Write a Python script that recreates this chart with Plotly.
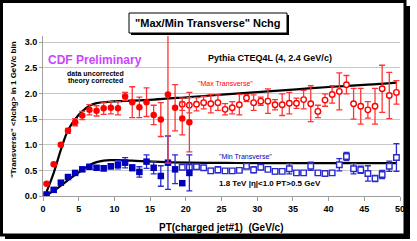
import plotly.graph_objects as go

# ---------------- data ----------------
pt_low = [0.5 + i for i in range(21)]          # 0.5 .. 20.5
pt_high = [19.5 + i for i in range(31)]        # 19.5 .. 49.5

max_low = [0.24, 0.62, 1.00, 1.27, 1.44, 1.57, 1.68, 1.66, 1.71, 1.72, 1.71,
           1.94, 1.83, 1.73, 1.83, 1.58, 1.49, 1.98, 1.72, 1.51, 1.44]
max_low_err = [0.02, 0.02, 0.03, 0.05, 0.07, 0.08, 0.10, 0.10, 0.12, 0.12, 0.13,
               0.08, 0.30, 0.20, 0.28, 0.19, 0.33, 1.34, 0.45, 0.32, 0.58]

min_low = [0.03, 0.12, 0.26, 0.37, 0.45, 0.52, 0.57, 0.55, 0.54, 0.58, 0.61,
           0.65, 0.55, 0.47, 0.67, 0.55, 0.39, 0.65, 0.52, 0.25, 0.45]
min_low_err = [0.01, 0.01, 0.02, 0.02, 0.03, 0.03, 0.04, 0.04, 0.05, 0.05, 0.08,
               0.10, 0.06, 0.10, 0.13, 0.12, 0.20, 0.52, 0.28, 0.04, 0.35]

max_high = [1.79, 1.77, 1.79, 1.82, 1.80, 1.82, 1.69, 1.72, 1.78, 1.91, 1.82,
            1.85, 1.85, 1.78, 1.78, 1.81, 1.81, 1.88, 1.80, 1.65, 1.87, 1.98,
            2.04, 2.17, 1.80, 1.75, 1.68, 1.75, 2.09, 1.96, 2.02]
max_high_err = [0.12, 0.15, 0.13, 0.12, 0.18, 0.15, 0.11, 0.12, 0.20, 0.07, 0.15,
                0.08, 0.24, 0.10, 0.21, 0.21, 0.10, 0.18, 0.35, 0.12, 0.12, 0.17,
                0.36, 0.18, 0.30, 0.35, 0.16, 0.35, 0.46, 0.45, 0.23]

min_high = [0.56, 0.56, 0.57, 0.55, 0.49, 0.51, 0.49, 0.49, 0.50, 0.58, 0.51,
            0.56, 0.52, 0.48, 0.48, 0.53, 0.45, 0.45, 0.58, 0.45, 0.44, 0.45,
            0.61, 0.77, 0.53, 0.51, 0.44, 0.34, 0.42, 0.58, 0.75]
min_high_err = [0.03, 0.03, 0.03, 0.03, 0.05, 0.06, 0.03, 0.03, 0.03, 0.03, 0.06,
                0.03, 0.03, 0.05, 0.03, 0.10, 0.03, 0.03, 0.08, 0.04, 0.04, 0.04,
                0.12, 0.08, 0.10, 0.07, 0.15, 0.06, 0.08, 0.10, 0.27]

th_pt = [0.5, 1.5, 2.5, 3.5, 4.5, 5.5, 6.5, 7.5, 8.5, 9.5, 10.5, 12.5, 15.5,
         20.5, 25.5, 30.5, 35.5, 40.5, 45.5, 49.5]
th_max = [0.08, 0.45, 0.90, 1.28, 1.50, 1.65, 1.76, 1.81, 1.83, 1.84, 1.85, 1.86,
          1.88, 1.93, 1.98, 2.03, 2.08, 2.13, 2.17, 2.21]
th_min = [0.02, 0.10, 0.20, 0.31, 0.41, 0.51, 0.60, 0.66, 0.69, 0.70, 0.70, 0.69,
          0.67, 0.65, 0.645, 0.64, 0.64, 0.64, 0.64, 0.64]

x_ticks = [0, 5, 10, 15, 20, 25, 30, 35, 40, 45, 50]
y_ticks = [0.0, 0.5, 1.0, 1.5, 2.0, 2.5, 3.0]

# ---------------- layout geometry ----------------
W, H = 417, 241
ML, MR, MT, MB = 43, 17, 36, 45
PW, PH = W - ML - MR, H - MT - MB


def px(x):
    return (x - ML) / PW


def py(y):
    return (H - MB - y) / PH


FONT = "Liberation Sans, Arial, sans-serif"
RED = "#ff0000"
RED_ERR = "#ff3535"
BLUE = "#0000bb"
BLUE_OPEN = "#2a2ad0"

fig = go.Figure()

# theory curves
fig.add_trace(go.Scatter(x=th_pt, y=th_max, mode="lines",
                         line=dict(color="black", width=2.2, shape="spline"),
                         hoverinfo="skip"))
fig.add_trace(go.Scatter(x=th_pt, y=th_min, mode="lines",
                         line=dict(color="black", width=2.2, shape="spline"),
                         hoverinfo="skip"))

# min transverse
fig.add_trace(go.Scatter(x=pt_high, y=min_high, mode="markers",
                         marker=dict(symbol="square", size=5.5, color="white",
                                     line=dict(width=1.4, color=BLUE_OPEN)),
                         error_y=dict(type="data", array=min_high_err, color=BLUE_OPEN,
                                      thickness=1.3, width=3)))
fig.add_trace(go.Scatter(x=pt_low, y=min_low, mode="markers",
                         marker=dict(symbol="square", size=6.5, color=BLUE),
                         error_y=dict(type="data", array=min_low_err, color=BLUE_OPEN,
                                      thickness=1.3, width=3)))

# max transverse
fig.add_trace(go.Scatter(x=pt_high, y=max_high, mode="markers",
                         marker=dict(symbol="circle", size=5.5, color="white",
                                     line=dict(width=1.4, color=RED)),
                         error_y=dict(type="data", array=max_high_err, color=RED_ERR,
                                      thickness=1.3, width=3)))
fig.add_trace(go.Scatter(x=pt_low, y=max_low, mode="markers",
                         marker=dict(symbol="circle", size=6.5, color=RED),
                         error_y=dict(type="data", array=max_low_err, color=RED_ERR,
                                      thickness=1.3, width=3)))

fig.update_xaxes(range=[0, 50], tickvals=x_ticks, ticktext=[str(v) for v in x_ticks],
                 showgrid=False, zeroline=False, showline=True, linecolor="#a0a0a0",
                 linewidth=1, ticks="outside", ticklen=4, tickcolor="#a0a0a0",
                 tickfont=dict(family=FONT, size=9, color="black", weight="bold"))
fig.update_yaxes(range=[0, 3.12], tickvals=y_ticks, ticktext=[f"{v:.1f}" for v in y_ticks],
                 showgrid=True, gridcolor="#c8c8c8", gridwidth=1, zeroline=False,
                 showline=True, linecolor="#a0a0a0", linewidth=1,
                 ticks="outside", ticklen=3, tickcolor="#a0a0a0",
                 tickfont=dict(family=FONT, size=9, color="black", weight="bold"))

shapes = [
    # outer frame shadow
    dict(type="rect", xref="paper", yref="paper", x0=px(5), x1=px(410), y0=py(239), y1=py(6),
         fillcolor="black", line=dict(width=0), layer="below"),
    # outer frame
    dict(type="rect", xref="paper", yref="paper", x0=px(1.5), x1=px(405), y0=py(235), y1=py(1.5),
         fillcolor="white", line=dict(color="black", width=3), layer="below"),
    # title shadow
    dict(type="rect", xref="paper", yref="paper", x0=px(131), x1=px(289), y0=py(35), y1=py(15),
         fillcolor="black", line=dict(width=0)),
    # title box
    dict(type="rect", xref="paper", yref="paper", x0=px(129), x1=px(287), y0=py(33), y1=py(13),
         fillcolor="white", line=dict(color="black", width=1)),
]


def ann(text, x, y, size, color="black", bold=True, angle=0):
    return dict(text=f"<b>{text}</b>" if bold else text, x=px(x), y=py(y), xref="paper",
                yref="paper", xanchor="center", yanchor="middle", showarrow=False,
                textangle=angle, font=dict(family=FONT, size=size, color=color))


annotations = [
    ann('"Max/Min Transverse" Nchg', 208, 23, 11),
    ann("CDF Preliminary", 95, 60, 12, color="#cc44ff"),
    ann("data uncorrected", 95, 73, 7),
    ann("theory corrected", 95, 81, 7),
    ann("Pythia CTEQ4L (4, 2.4 GeV/c)", 270, 58, 9),
    ann('"Max Transverse"', 225, 83, 7, color=RED, bold=False),
    ann('"Min Transverse"', 245, 156, 7, color=BLUE, bold=False),
    ann("1.8 TeV |η|<1.0 PT>0.5 GeV", 270, 183, 8),
    ann("PT(charged jet#1)  (GeV/c)", 221, 227, 10),
    ann('"Transverse" <Nchg> in 1 GeV/c bin', 13, 110, 8, angle=-90),
]

fig.update_layout(width=W, height=H, margin=dict(l=ML, r=MR, t=MT, b=MB, pad=0),
                  paper_bgcolor="white", plot_bgcolor="rgba(0,0,0,0)", showlegend=False,
                  shapes=shapes, annotations=annotations,
                  font=dict(family=FONT))

fig.write_html("out.html", config={"displayModeBar": False},
               post_script="document.body.style.margin='0';document.body.style.overflow='hidden';")
